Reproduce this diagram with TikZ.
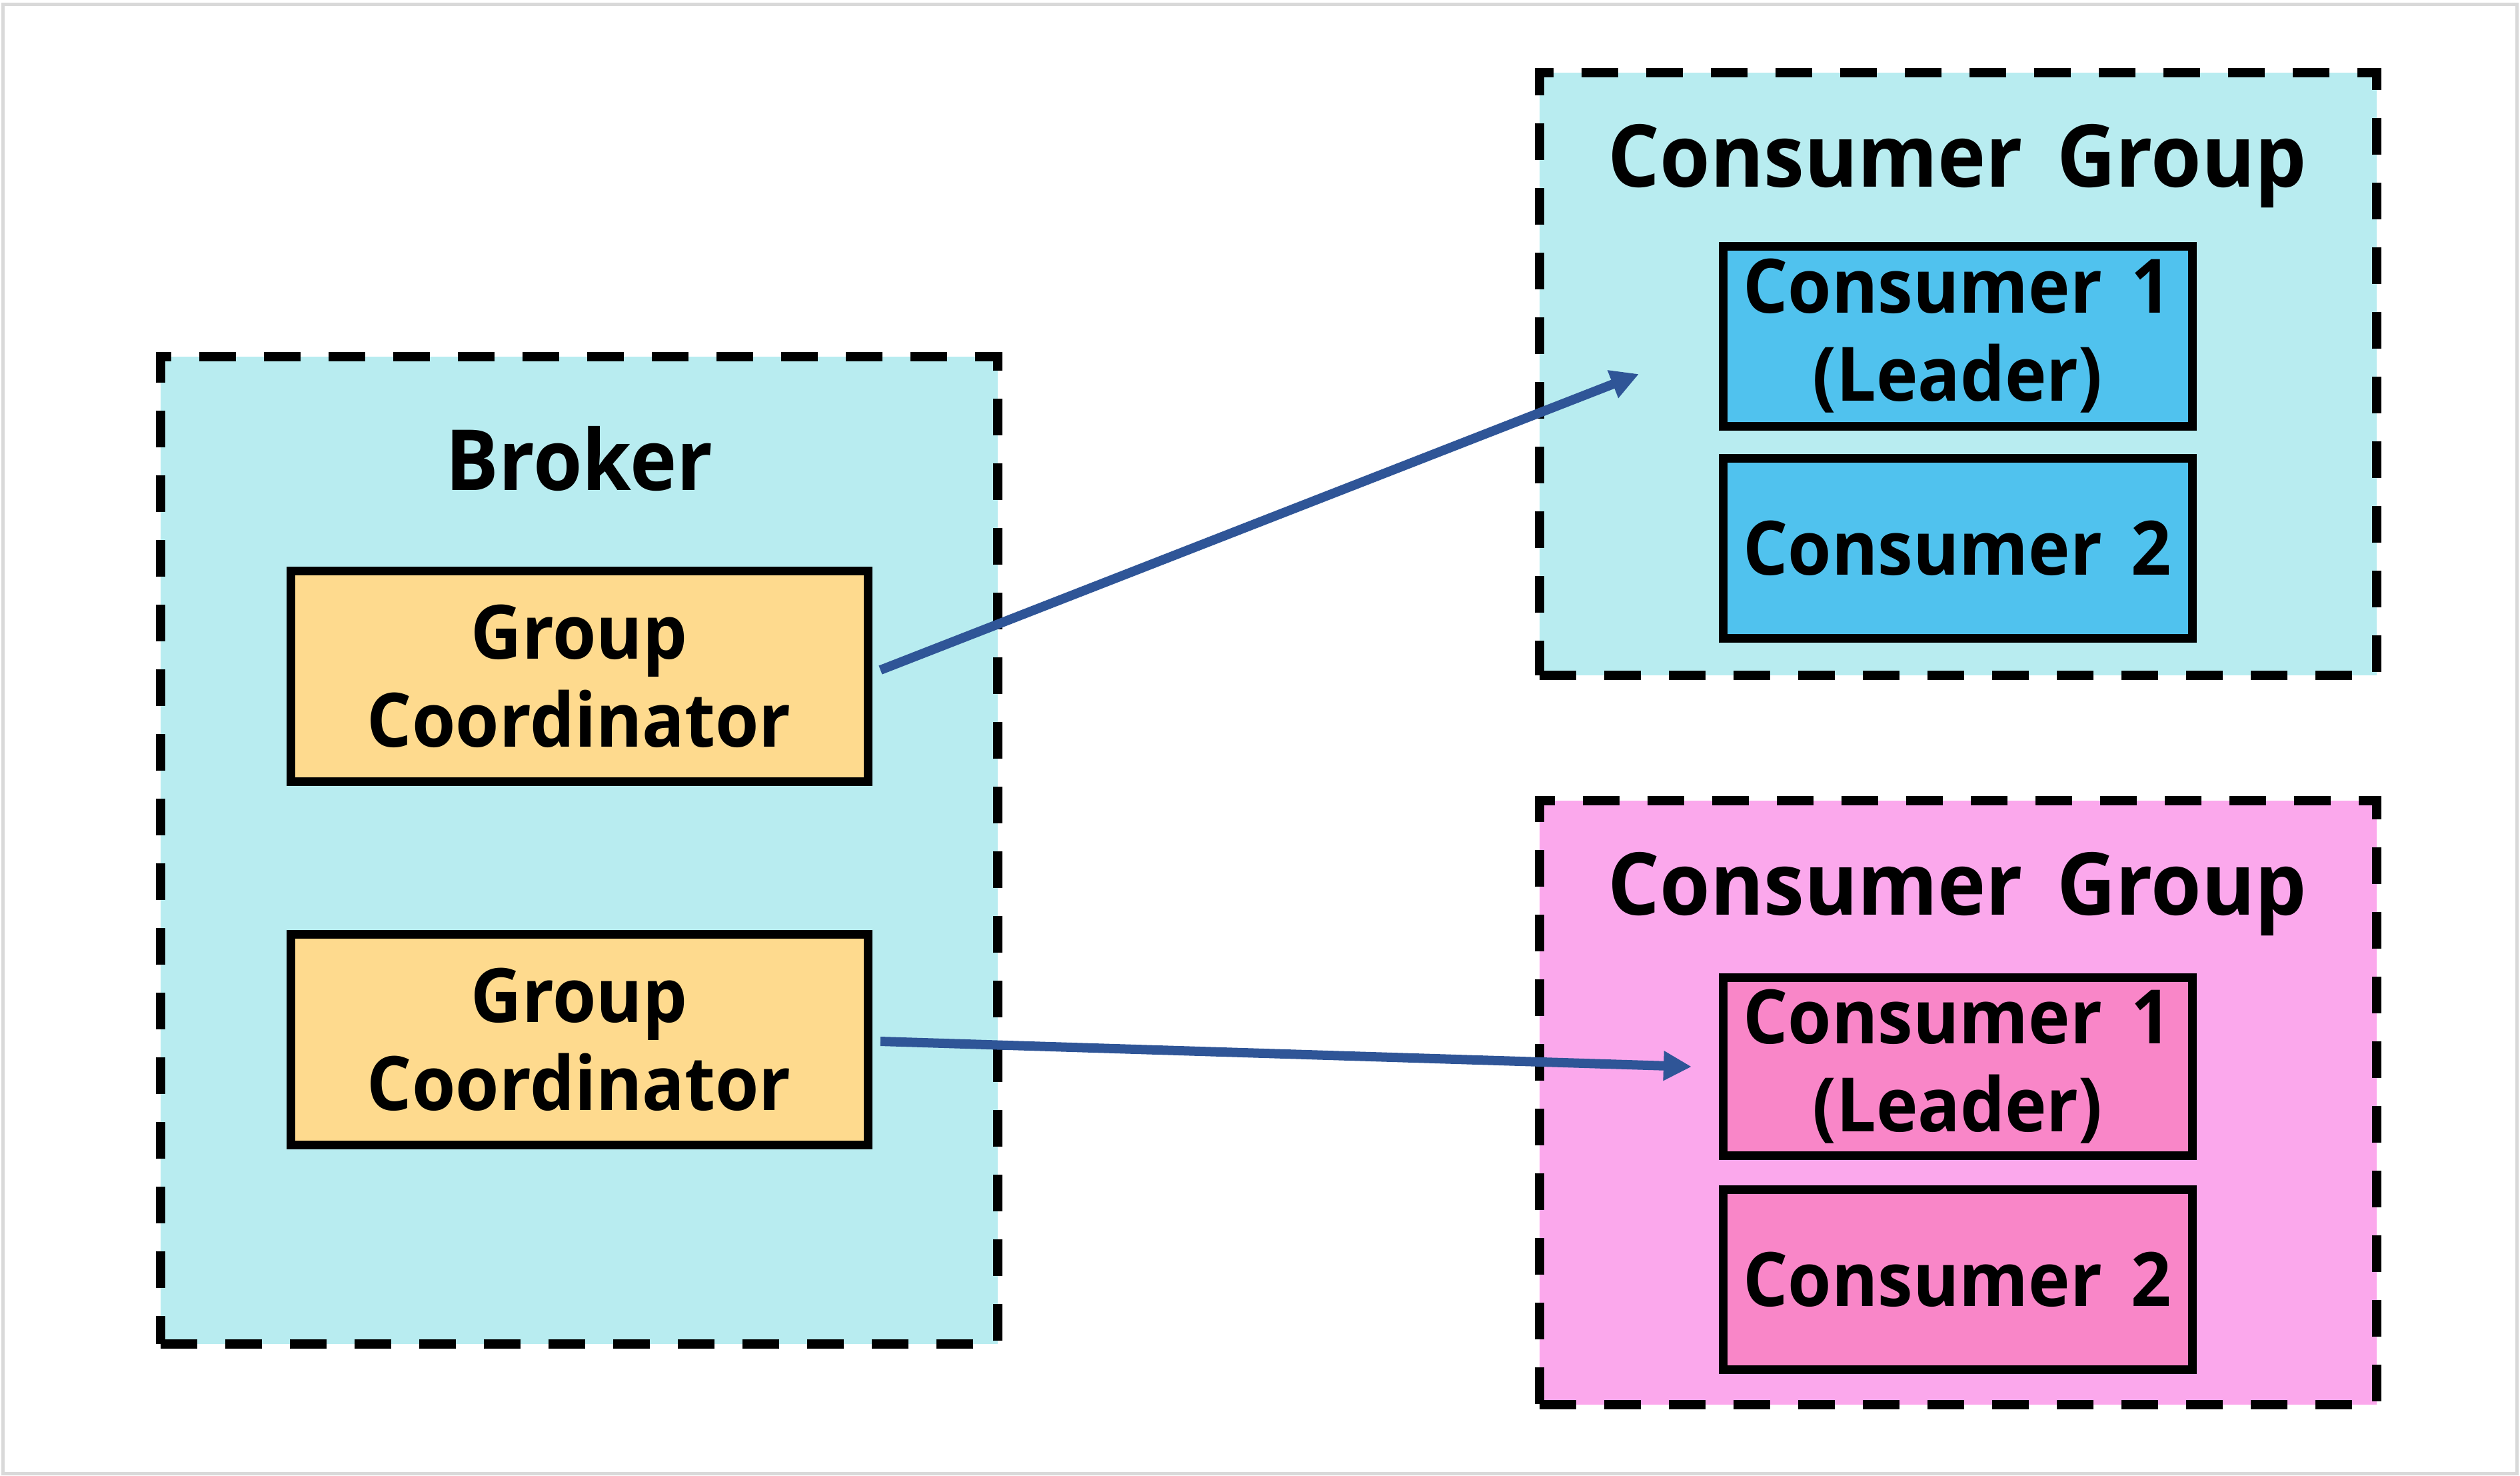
\documentclass[tikz,border=0pt]{standalone}
\usepackage{fontspec}
\setmainfont{Open Sans}[FakeStretch=0.94, WordSpace=1.6]
\usetikzlibrary{arrows.meta}
\definecolor{bgcyan}{HTML}{B8ECF0}
\definecolor{bgpink}{HTML}{FBA8EC}
\definecolor{cblue}{HTML}{50C2EE}
\definecolor{cpink}{HTML}{F986C8}
\definecolor{gcyellow}{HTML}{FEDA8E}
\definecolor{arrowblue}{HTML}{2F5597}
\definecolor{framegray}{HTML}{D9D9D9}
\begin{document}
\begin{tikzpicture}[x=1cm,y=1cm,
  grp/.style={draw=black, line width=0.14cm, dash pattern=on 0.55cm off 0.42cm, rectangle, inner sep=0pt, outer sep=0pt},
  box/.style={draw=black, line width=0.13cm, rectangle, inner sep=0pt, outer sep=0pt, align=center, font=\bfseries\fontsize{32}{37.5}\selectfont},
  ttl/.style={anchor=base, inner sep=0pt, font=\bfseries\fontsize{37}{44}\selectfont},
  arr/.style={draw=arrowblue, line width=0.14cm, -{Triangle[length=0.42cm,width=0.42cm]}}
]
\useasboundingbox (0,0) rectangle (37.81,-22.13);
\draw[framegray, line width=0.05cm] (0.045,-0.065) rectangle (37.765,-22.10);

% Broker
\node[grp, fill=bgcyan, minimum width=12.56cm, minimum height=14.81cm] (broker) at (8.69,-12.755) {};
\node[ttl, font=\bfseries\fontsize{36}{44}\selectfont] (brokertitle) at (8.69,-7.35) {Broker};
\node[box, fill=gcyellow, minimum width=8.66cm, minimum height=3.16cm] (gc1) at (8.69,-10.14) {Group\\Coordinator};
\node[box, fill=gcyellow, minimum width=8.66cm, minimum height=3.16cm] (gc2) at (8.69,-15.59) {Group\\Coordinator};

% Consumer group 1
\node[grp, fill=bgcyan, minimum width=12.56cm, minimum height=9.04cm] (cg1) at (29.38,-5.61) {};
\node[ttl] (cg1title) at (29.37,-2.80) {Consumer Group};
\node[box, fill=cblue, minimum width=7.04cm, minimum height=2.70cm] (c11) at (29.37,-5.04) {Consumer 1\\(Leader)};
\node[box, fill=cblue, minimum width=7.04cm, minimum height=2.70cm] (c12) at (29.37,-8.22) {Consumer 2};

% Consumer group 2
\node[grp, fill=bgpink, minimum width=12.56cm, minimum height=9.06cm] (cg2) at (29.38,-16.54) {};
\node[ttl] (cg2title) at (29.37,-13.72) {Consumer Group};
\node[box, fill=cpink, minimum width=7.04cm, minimum height=2.67cm] (c21) at (29.37,-15.995) {Consumer 1\\(Leader)};
\node[box, fill=cpink, minimum width=7.04cm, minimum height=2.70cm] (c22) at (29.37,-19.19) {Consumer 2};

% Arrows
\coordinate (t1) at (24.59,-5.61);
\coordinate (t2) at (25.38,-16.00);
\draw[arr] ([shift={(0.19,0.09)}]gc1.east) -- (t1);
\draw[arr] ([shift={(0.19,-0.03)}]gc2.east) -- (t2);
\end{tikzpicture}
\end{document}
